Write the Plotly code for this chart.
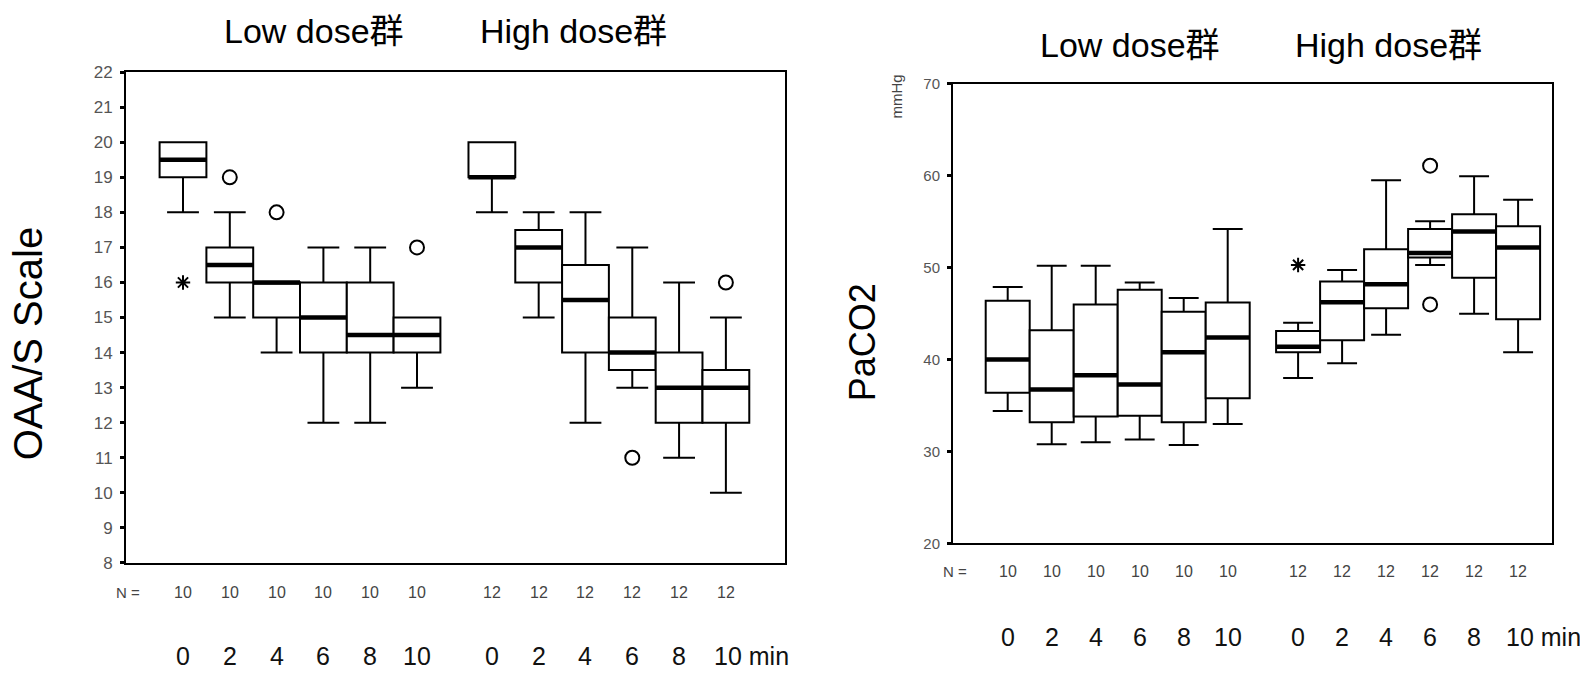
import plotly.graph_objects as go

# ---------------- data ----------------
times = ["0", "2", "4", "6", "8", "10"]
groups = ["Low dose群", "High dose群"]
n_low = [10, 10, 10, 10, 10, 10]
n_high = [12, 12, 12, 12, 12, 12]

# OAA/S Scale
oaa_low_q1 = [19, 16, 15, 14, 14, 14]
oaa_low_med = [19.5, 16.5, 16, 15, 14.5, 14.5]
oaa_low_q3 = [20, 17, 16, 16, 16, 15]
oaa_low_lo = [18, 15, 14, 12, 12, 13]
oaa_low_hi = [20, 18, 16, 17, 17, 15]
oaa_high_q1 = [19, 16, 14, 13.5, 12, 12]
oaa_high_med = [19, 17, 15.5, 14, 13, 13]
oaa_high_q3 = [20, 17.5, 16.5, 15, 14, 13.5]
oaa_high_lo = [18, 15, 12, 13, 11, 10]
oaa_high_hi = [20, 18, 18, 17, 16, 15]
oaa_low_circ_idx = [1, 2, 5]
oaa_low_circ_val = [19, 18, 17]
oaa_low_star_idx = [0]
oaa_low_star_val = [16]
oaa_high_circ_idx = [3, 5]
oaa_high_circ_val = [11, 16]

# PaCO2 (mmHg)
pa_low_q1 = [36.4, 33.2, 33.8, 33.9, 33.2, 35.8]
pa_low_med = [40.0, 36.75, 38.3, 37.3, 40.8, 42.4]
pa_low_q3 = [46.4, 43.2, 46.0, 47.6, 45.2, 46.2]
pa_low_lo = [34.4, 30.8, 31.0, 31.3, 30.7, 33.0]
pa_low_hi = [47.9, 50.2, 50.2, 48.4, 46.7, 54.2]
pa_high_q1 = [40.8, 42.1, 45.6, 51.1, 48.9, 44.4]
pa_high_med = [41.4, 46.25, 48.2, 51.6, 53.95, 52.2]
pa_high_q3 = [43.1, 48.5, 52.0, 54.2, 55.8, 54.5]
pa_high_lo = [38.0, 39.6, 42.7, 50.3, 45.0, 40.8]
pa_high_hi = [44.0, 49.75, 59.5, 55.05, 59.95, 57.4]
pa_high_star_idx = [0]
pa_high_star_val = [50.3]
pa_high_circ_idx = [3, 3]
pa_high_circ_val = [61.1, 46.0]

# ---------------- layout helpers ----------------
W, H = 1580, 673
FONT = "Liberation Sans, Arial, Noto Sans CJK JP, sans-serif"
GAP = 6.6
pos_low = [float(i) for i in range(len(times))]
pos_high = [i + GAP for i in range(len(times))]
BOXW = 1.0


def px(x):
    return x / W


def py(y):
    return 1 - y / H


fig = go.Figure()


def add_panel(xa, ya, pos, q1, med, q3, lo, hi):
    fig.add_trace(go.Box(
        x=pos, q1=q1, median=med, q3=q3, lowerfence=lo, upperfence=hi,
        width=BOXW, whiskerwidth=0.68, boxpoints=False,
        line=dict(color="black", width=2), fillcolor="white",
        xaxis=xa, yaxis=ya, hoverinfo="skip"))
    mx, my = [], []
    for p, m in zip(pos, med):
        mx += [p - BOXW / 2, p + BOXW / 2, None]
        my += [m, m, None]
    fig.add_trace(go.Scatter(x=mx, y=my, mode="lines",
                             line=dict(color="black", width=4.5),
                             xaxis=xa, yaxis=ya, hoverinfo="skip"))


def add_points(xa, ya, pos, idx, vals, symbol, size):
    fig.add_trace(go.Scatter(
        x=[pos[i] for i in idx], y=vals, mode="markers",
        marker=dict(symbol=symbol, size=size, color="black",
                    line=dict(color="black", width=2)),
        xaxis=xa, yaxis=ya, hoverinfo="skip"))


# left panel (OAA/S)
add_panel("x", "y", pos_low, oaa_low_q1, oaa_low_med, oaa_low_q3, oaa_low_lo, oaa_low_hi)
add_panel("x", "y", pos_high, oaa_high_q1, oaa_high_med, oaa_high_q3, oaa_high_lo, oaa_high_hi)
add_points("x", "y", pos_low, oaa_low_circ_idx, oaa_low_circ_val, "circle-open", 14)
add_points("x", "y", pos_low, oaa_low_star_idx, oaa_low_star_val, "asterisk-open", 12)
add_points("x", "y", pos_high, oaa_high_circ_idx, oaa_high_circ_val, "circle-open", 14)

# right panel (PaCO2)
add_panel("x2", "y2", pos_low, pa_low_q1, pa_low_med, pa_low_q3, pa_low_lo, pa_low_hi)
add_panel("x2", "y2", pos_high, pa_high_q1, pa_high_med, pa_high_q3, pa_high_lo, pa_high_hi)
add_points("x2", "y2", pos_high, pa_high_star_idx, pa_high_star_val, "asterisk-open", 12)
add_points("x2", "y2", pos_high, pa_high_circ_idx, pa_high_circ_val, "circle-open", 14)

axis_common = dict(showline=True, mirror=True, linecolor="black", linewidth=2,
                   showgrid=False, zeroline=False)

# panel pixel geometry
L_LEFT, L_RIGHT, L_TOP, L_BOT = 126, 785, 65, 570
L_POS0, L_STEP = 183.0, 46.8
R_LEFT, R_RIGHT, R_TOP, R_BOT = 953, 1552, 77, 550
R_POS0, R_STEP = 1007.7, 44.0

fig.update_layout(
    width=W, height=H, margin=dict(l=0, r=0, t=0, b=0),
    paper_bgcolor="white", plot_bgcolor="white", showlegend=False,
    font=dict(family=FONT, color="black"),
    xaxis=dict(domain=[px(L_LEFT), px(L_RIGHT)],
               range=[(L_LEFT - L_POS0) / L_STEP, (L_RIGHT - L_POS0) / L_STEP],
               showticklabels=False, ticks="", anchor="y", **axis_common),
    yaxis=dict(domain=[py(L_BOT), py(L_TOP)], range=[8, 22], dtick=1, tick0=8,
               ticks="outside", ticklen=4, tickwidth=3, tickcolor="black",
               tickfont=dict(size=17, color="#555555", family=FONT),
               ticklabelstandoff=4, anchor="x", **axis_common),
    xaxis2=dict(domain=[px(R_LEFT), px(R_RIGHT)],
                range=[(R_LEFT - R_POS0) / R_STEP, (R_RIGHT - R_POS0) / R_STEP],
                showticklabels=False, ticks="", anchor="y2", **axis_common),
    yaxis2=dict(domain=[py(R_BOT), py(R_TOP)], range=[20, 70], dtick=10, tick0=20,
                ticks="outside", ticklen=4, tickwidth=3, tickcolor="black",
                tickfont=dict(size=15, color="#555555", family=FONT),
                ticklabelstandoff=4, anchor="x2", **axis_common),
)

ann = []


def text(x, y, s, size, color="black", angle=0, xref="paper", xanchor="center"):
    ann.append(dict(x=x, y=y, xref=xref, yref="paper", text=s, showarrow=False,
                    textangle=angle, xanchor=xanchor, yanchor="middle",
                    font=dict(size=size, color=color, family=FONT)))


# group titles
text(px(314), py(23), groups[0], 34)
text(px(573), py(23), groups[1], 34)
text(px(1130), py(37), groups[0], 34)
text(px(1388), py(37), groups[1], 34)

# axis titles
text(px(28), py(345), "OAA/S Scale", 40, angle=-90)
text(px(862), py(343), "PaCO2", 36, angle=-90)
text(px(896), py(90), "mmHg", 15, color="#444444", angle=-90)

# N rows and time labels
for xa, ny, ty, half in (("x", 600, 666, 0.30), ("x2", 579, 646, 0.32)):
    text(-1.18 if xa == "x" else -1.2, py(ny), "N =", 15, color="#444444", xref=xa)
    for p, n in zip(pos_low, n_low):
        text(p, py(ny), str(n), 16, color="#444444", xref=xa)
    for p, n in zip(pos_high, n_high):
        text(p, py(ny), str(n), 16, color="#444444", xref=xa)
    for p, t in zip(pos_low, times):
        text(p, py(ty), t, 25, color="#111111", xref=xa)
    for i, (p, t) in enumerate(zip(pos_high, times)):
        if i == len(times) - 1:
            text(p - half, py(ty), t + " min", 25, color="#111111", xref=xa, xanchor="left")
        else:
            text(p, py(ty), t, 25, color="#111111", xref=xa)

fig.update_layout(annotations=ann)
fig.write_html(
    "out.html",
    config={"displayModeBar": False},
    post_script="document.body.style.margin='0px';document.body.style.overflow='hidden';",
)
